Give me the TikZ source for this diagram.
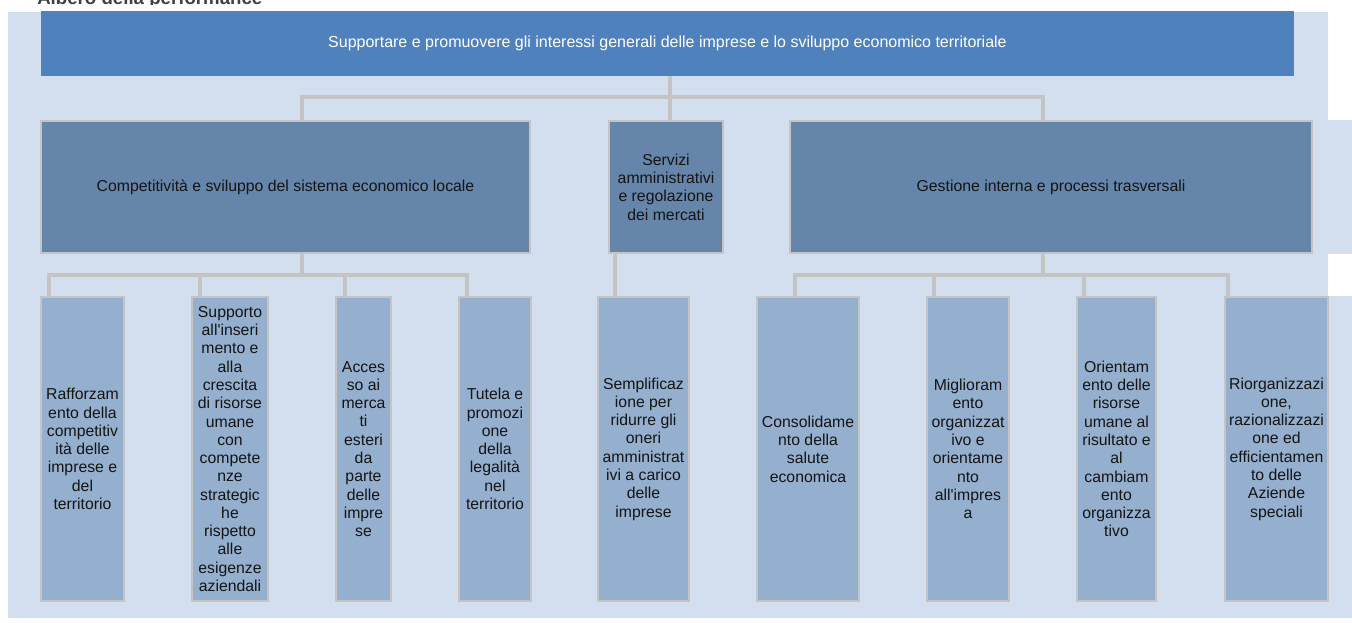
\documentclass[tikz,border=0pt]{standalone}
\usepackage{fontspec}
\setmainfont{Liberation Sans}
\usetikzlibrary{calc}
\definecolor{bgblue}{RGB}{211,223,238}
\definecolor{topblue}{RGB}{79,129,189}
\definecolor{midblue}{RGB}{101,134,170}
\definecolor{lowblue}{RGB}{149,176,206}
\definecolor{lnk}{RGB}{196,196,196}
\definecolor{ink}{RGB}{20,20,20}
\definecolor{ttl}{RGB}{64,64,64}

\begin{document}
\begin{tikzpicture}[
        x=0.75pt, y=-0.75pt,
        wh/.style 2 args={minimum width={#1*0.75pt}, minimum height={#2*0.75pt}},
        tx/.style={font=\fontsize{11.85}{13.7}\selectfont, align=center, inner sep=0pt},
        l1/.style={shape=rectangle, fill=topblue, text=white, tx, font=\fontsize{12}{14}\selectfont},
        l2/.style={shape=rectangle, fill=midblue, draw=lnk, line width=1.5pt, text=ink, tx},
        l3/.style={shape=rectangle, fill=lowblue, draw=lnk, line width=1.5pt, text=ink, tx},
        link/.style={draw=lnk, line width=2.6pt},
        ]
  \useasboundingbox (0,0) rectangle (1352,622);
  % background bands
  \fill[bgblue] (8,12) rectangle (1328,120.5);
  \fill[bgblue] (8,120) rectangle (1352,253.5);
  \fill[bgblue] (8,253) rectangle (1328,296.5);
  \fill[bgblue] (8,296) rectangle (1352,618);

  \begin{scope}
    \clip (0,0) rectangle (1352,4.7);
    \node (title) [anchor=base west, inner sep=0pt, text=ttl,
      font=\fontsize{14}{16}\selectfont\bfseries] at (37,4.5) {Albero della performance};
  \end{scope}

  \node (top) [l1, wh={1253}{65}] at (667.5,43.5)
    {Supportare e promuovere gli interessi generali delle imprese e lo sviluppo economico territoriale};

  \node (lvA) [l2, wh={489}{132}] at (285.5,187) {Competitività e sviluppo del sistema economico locale};
  \node (lvB) [l2, wh={114}{132}] at (666,187) {Servizi\\amministrativi\\e regolazione\\dei mercati};
  \node (lvC) [l2, wh={522}{132}] at (1051,187) {Gestione interna e processi trasversali};

  \foreach \n/\cx/\w/\txt in {
      1/82.5/83/{Rafforzam\\ento della\\competitiv\\ità delle\\imprese e\\del\\territorio},
      2/230/76/{Supporto\\all\textquotesingle inseri\\mento e\\alla\\crescita\\di risorse\\umane\\con\\compete\\nze\\strategic\\he\\rispetto\\alle\\esigenze\\aziendali},
      3/363.5/55/{Acces\\so ai\\merca\\ti\\esteri\\da\\parte\\delle\\impre\\se},
      4/495/72/{Tutela e\\promozi\\one\\della\\legalità\\nel\\territorio},
      5/643.5/91/{Semplificaz\\ione per\\ridurre gli\\oneri\\amministrat\\ivi a carico\\delle\\imprese},
      6/808/102/{Consolidame\\nto della\\salute\\economica},
      7/968/82/{Miglioram\\ento\\organizzat\\ivo e\\orientame\\nto\\all\textquotesingle impres\\a},
      8/1116.5/79/{Orientam\\ento delle\\risorse\\umane al\\risultato e\\al\\cambiam\\ento\\organizza\\tivo},
      9/1276.5/103/{Riorganizzazi\\one,\\razionalizzazi\\one ed\\efficientamen\\to delle\\Aziende\\speciali}}
    \node (o\n) [l3, wh={\w}{304}] at (\cx,449) {\txt};

  % connectors
  \coordinate (bus0) at (670,97);
  \coordinate (busA) at (302,275);
  \coordinate (busC) at (1043,275);
  \draw[link] (top.south -| bus0) -- (bus0);
  \draw[link] ($(lvA.north)+(16.5,0)$) |- (bus0);
  \draw[link] (lvB.north -| bus0) -- (bus0);
  \draw[link] ($(lvC.north)+(-8,0)$) |- (bus0);

  \draw[link] ($(lvA.south)+(16.5,0)$) -- (busA);
  \foreach \n/\sh in {1/-33.5,2/-30,3/-18.5,4/-28}
    \draw[link] ($(o\n.north)+(\sh,0)$) |- (busA);

  \draw[link] ($(lvB.south)+(-51,0)$) -- ($(o5.north)+(-28.5,0)$);

  \draw[link] ($(lvC.south)+(-8,0)$) -- (busC);
  \foreach \n/\sh in {6/-13,7/-34,8/-32.5,9/-48.5}
    \draw[link] ($(o\n.north)+(\sh,0)$) |- (busC);
\end{tikzpicture}
\end{document}
